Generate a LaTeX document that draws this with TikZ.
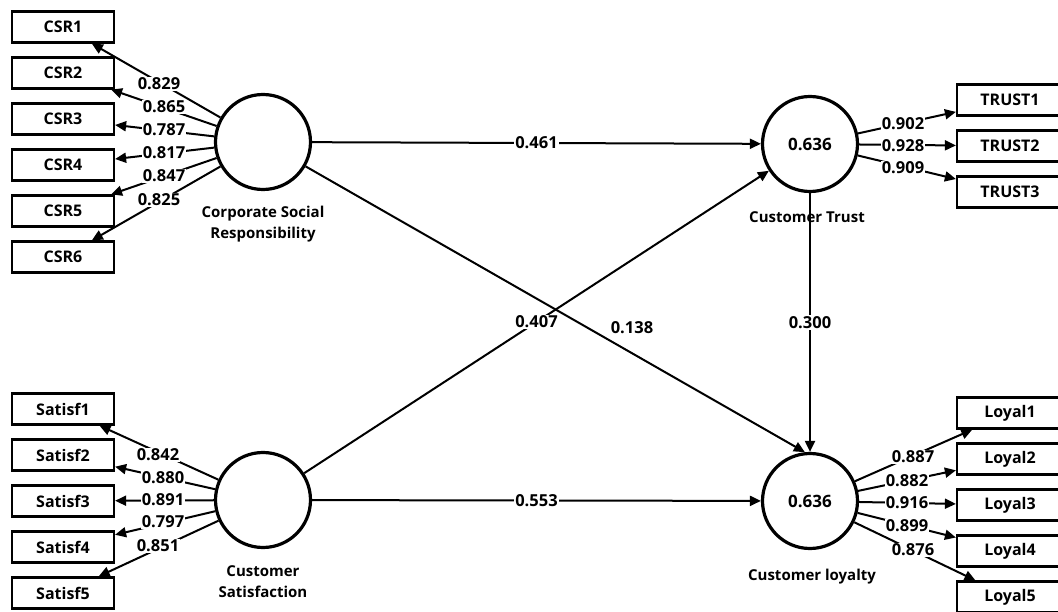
\documentclass[tikz,border=0pt]{standalone}
\usepackage{fontspec}
\setmainfont{Open Sans}
\usetikzlibrary{arrows.meta}
\begin{document}
\begin{tikzpicture}[x=1pt,y=-1pt,
  ind/.style={draw, line width=2.2pt, minimum width=102pt, minimum height=31pt, inner sep=0pt, fill=white, font=\fontsize{16}{18}\selectfont\bfseries},
  indr/.style={ind, minimum width=106pt},
  lat/.style={circle, draw, line width=3.2pt, minimum size=95pt, inner sep=0pt, fill=white, font=\fontsize{17}{20}\selectfont\bfseries},
  ld/.style={line width=2pt, -{Triangle[length=11pt,width=10pt]}},
  num/.style={fill=white, inner sep=1pt, font=\fontsize{16.5}{19}\selectfont\bfseries},
  plain/.style={inner sep=1pt, font=\fontsize{16.5}{19}\selectfont\bfseries},
  lvname/.style={align=center, font=\fontsize{15}{21}\selectfont\bfseries},
]
\useasboundingbox (0,0) rectangle (1058,612);
\clip (0,0) rectangle (1058,612);

% latent variables
\node[lat] (CSR) at (263,142) {};
\node[lat] (CS)  at (263,500) {};
\node[lat] (CT)  at (810,144) {0.636};
\node[lat] (CL)  at (810,501) {0.636};

\node[lvname] (tCSR) at (263,224) {Corporate Social\\Responsibility};
\node[lvname] (tCS)  at (263,582) {Customer\\Satisfaction};
\node[lvname] (tCT)  at (807,217) {Customer Trust};
\node[lvname] (tCL)  at (812,577) {Customer loyalty};

% indicators
\node[ind] (csr1) at (63,27)  {CSR1};
\node[ind] (csr2) at (63,73)  {CSR2};
\node[ind] (csr3) at (63,119) {CSR3};
\node[ind] (csr4) at (63,165) {CSR4};
\node[ind] (csr5) at (63,211) {CSR5};
\node[ind] (csr6) at (63,257) {CSR6};

\node[ind] (sat1) at (63,409) {Satisf1};
\node[ind] (sat2) at (63,455) {Satisf2};
\node[ind] (sat3) at (63,501) {Satisf3};
\node[ind] (sat4) at (63,547) {Satisf4};
\node[ind] (sat5) at (63,593) {Satisf5};

\node[indr] (tr1) at (1010,100) {TRUST1};
\node[indr] (tr2) at (1010,146) {TRUST2};
\node[indr] (tr3) at (1010,192) {TRUST3};

\node[indr] (loy1) at (1010,413) {Loyal1};
\node[indr] (loy2) at (1010,459) {Loyal2};
\node[indr] (loy3) at (1010,505) {Loyal3};
\node[indr] (loy4) at (1010,551) {Loyal4};
\node[indr] (loy5) at (1010,597) {Loyal5};

% outer loadings
\foreach \i in {1,...,6} \draw[ld] (CSR) -- (csr\i);
\foreach \i in {1,...,5} \draw[ld] (CS) -- (sat\i);
\foreach \i in {1,...,3} \draw[ld] (CT) -- (tr\i);
\foreach \i in {1,...,5} \draw[ld] (CL) -- (loy\i);

\node[num] (l1) at (159,84)  {0.829};
\node[num] (l2) at (164,107) {0.865};
\node[num] (l3) at (164,130) {0.787};
\node[num] (l4) at (164,153) {0.817};
\node[num] (l5) at (164,176) {0.847};
\node[num] (l6) at (159,200) {0.825};

\node[num] (s1) at (158,455) {0.842};
\node[num] (s2) at (163,478) {0.880};
\node[num] (s3) at (163,500) {0.891};
\node[num] (s4) at (163,522) {0.797};
\node[num] (s5) at (158,546) {0.851};

\node[num] (t1) at (903,124) {0.902};
\node[num] (t2) at (903,146) {0.928};
\node[num] (t3) at (903,168) {0.909};

\node[num] (y1) at (913,457) {0.887};
\node[num] (y2) at (907,481) {0.882};
\node[num] (y3) at (907,503) {0.916};
\node[num] (y4) at (907,526) {0.899};
\node[num] (y5) at (913,550) {0.876};

% structural paths
\draw[ld] (CSR) -- (CT) node[num, pos=0.5] (p1) {0.461};
\draw[ld] (CS) -- (CL) node[num, pos=0.5] (p2) {0.553};
\draw[ld] (CS) -- (CT) node[num, pos=0.5] (p3) {0.407};
\draw[ld] (CSR) -- (CL.96);
\node[plain] (p4) at (632,328) {0.138};
\draw[ld] (CT) -- (CL) node[num, pos=0.5] (p5) {0.300};
\end{tikzpicture}
\end{document}
